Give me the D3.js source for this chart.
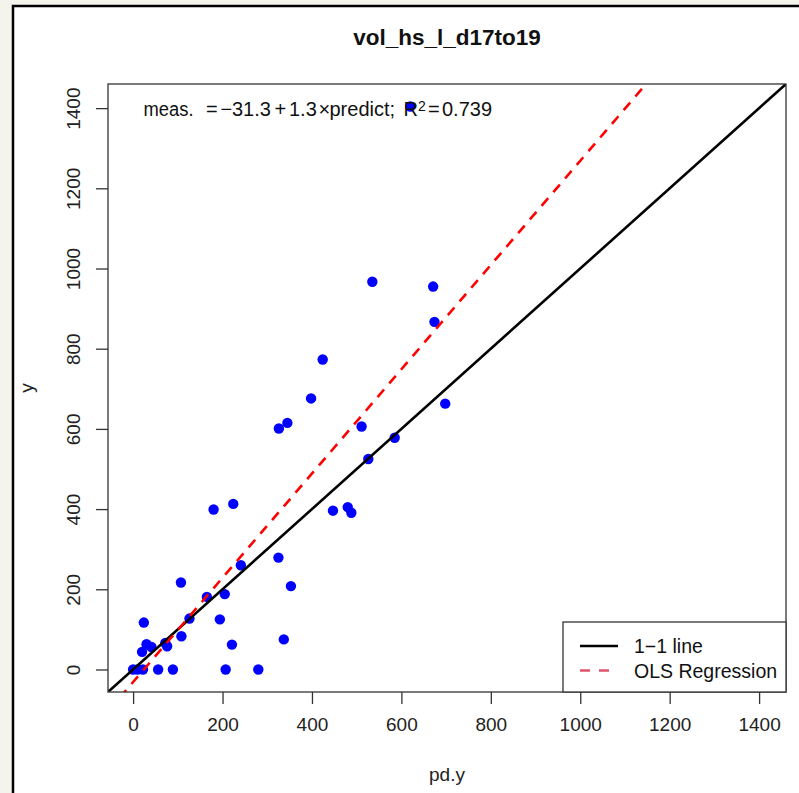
<!DOCTYPE html>
<html>
<head>
<meta charset="utf-8">
<script src="https://cdn.jsdelivr.net/npm/d3@7"></script>
<style>
  body { margin: 0; background: #f4f4ec; }
  svg { display: block; font-family: "Liberation Sans", Arial, sans-serif; }
</style>
</head>
<body>
<svg id="chart" width="799" height="793"></svg>
<script>
const predicted = [0, 10, 22, 56, 89, 207, 280, 20, 41, 30, 72, 76, 24, 108, 126, 194, 221, 337,
  107, 165, 205, 241, 325, 353, 180, 224, 447, 480, 488, 326, 345, 398, 424, 511, 526, 585,
  535, 671, 674, 698, 620];
const measured = [0, 0, 0, 0, 0, 0, 0, 44, 56, 63, 66, 58, 117, 83, 127, 125, 62, 75,
  217, 181, 188, 260, 279, 208, 399, 413, 396, 405, 391, 601, 615, 676, 773, 606, 525, 578,
  967, 955, 867, 663, 1404];
const axisTicks = [0, 200, 400, 600, 800, 1000, 1200, 1400];
const intercept = -31.3, slope = 1.3, rSquared = 0.739;
const legendLabels = ["1\u22121 line", "OLS Regression"];

const svg = d3.select("#chart");

// outer frame (window edge)
svg.append("rect").attr("x", 13).attr("y", 6).attr("width", 799).attr("height", 800)
    .attr("fill", "#fff").attr("stroke", "#000").attr("stroke-width", 2.5);

const pLeft = 108, pRight = 786, pTop = 84, pBottom = 692;

// R style limits: range extended by 4%
const lo = 0, hi = d3.max(predicted.concat(measured));
const pad = (hi - lo) * 0.04;
const x = d3.scaleLinear().domain([lo - pad, hi + pad]).range([pLeft, pRight]);
const y = d3.scaleLinear().domain([lo - pad, hi + pad]).range([pBottom, pTop]);

svg.append("clipPath").attr("id", "plotclip")
  .append("rect").attr("x", pLeft).attr("y", pTop)
  .attr("width", pRight - pLeft).attr("height", pBottom - pTop);

// points
svg.append("g").selectAll("circle")
    .data(predicted.map((p, i) => [p, measured[i]]))
    .enter().append("circle")
    .attr("cx", d => x(d[0]))
    .attr("cy", d => y(d[1]))
    .attr("r", 5.2)
    .attr("fill", "#0000ff");

const lines = svg.append("g").attr("clip-path", "url(#plotclip)");
const [d0, d1] = x.domain();

// 1-1 line
lines.append("line")
    .attr("x1", x(d0)).attr("y1", y(d0))
    .attr("x2", x(d1)).attr("y2", y(d1))
    .attr("stroke", "#000").attr("stroke-width", 2.6);

// OLS regression line
lines.append("line")
    .attr("x1", x(d0)).attr("y1", y(intercept + slope * d0))
    .attr("x2", x(d1)).attr("y2", y(intercept + slope * d1))
    .attr("stroke", "#ff0000").attr("stroke-width", 2.6)
    .attr("stroke-dasharray", "10,8");

// axes
const xAxis = svg.append("g").attr("transform", `translate(0,${pBottom})`)
    .call(d3.axisBottom(x).tickValues(axisTicks).tickFormat(d3.format("d"))
      .tickSize(12).tickPadding(14));
const yAxis = svg.append("g").attr("transform", `translate(${pLeft},0)`)
    .call(d3.axisLeft(y).tickValues(axisTicks).tickFormat(d3.format("d")).tickSize(12));

[xAxis, yAxis].forEach(g => {
  g.select(".domain").remove();
  g.selectAll(".tick line").attr("stroke", "#333").attr("stroke-width", 1.3);
  g.selectAll(".tick text").attr("font-size", 19).attr("fill", "#222")
    .attr("font-family", "Liberation Sans, Arial, sans-serif");
});
xAxis.selectAll(".tick text").attr("dy", "0.71em");
yAxis.selectAll(".tick text")
    .attr("text-anchor", "middle")
    .attr("x", 0).attr("y", 0).attr("dy", 0)
    .attr("transform", "translate(-28,0) rotate(-90)");

// plot box
svg.append("rect")
    .attr("x", pLeft).attr("y", pTop).attr("width", pRight - pLeft).attr("height", pBottom - pTop)
    .attr("fill", "none").attr("stroke", "#333").attr("stroke-width", 1.3);

// title and axis labels
svg.append("text").attr("x", (pLeft + pRight) / 2).attr("y", 45)
    .attr("text-anchor", "middle").attr("font-size", 22.5).attr("font-weight", "bold")
    .attr("fill", "#111").text("vol_hs_l_d17to19");
svg.append("text").attr("x", (pLeft + pRight) / 2).attr("y", 781)
    .attr("text-anchor", "middle").attr("font-size", 19).attr("fill", "#222").text("pd.y");
svg.append("text").attr("transform", `translate(33,${(pTop + pBottom) / 2}) rotate(-90)`)
    .attr("text-anchor", "middle").attr("font-size", 19).attr("fill", "#222").text("y");

// regression equation, laid out piece by piece like R plotmath
const eq = svg.append("text").attr("font-size", 20).attr("fill", "#111");
const eqBase = 115.5;
const pieces = [
  // text, left
  ["meas.", 143.5],
  ["=", 206],
  ["\u2212", 220.5],
  [Math.abs(intercept).toFixed(1), 232],
  ["+", 274.5],
  [slope.toFixed(1), 289],
  ["\u00d7", 318.5],
  ["predict;", 329.5],
  ["R", 403.5],
  ["=", 428],
  [rSquared.toFixed(3), 442]
];
pieces.forEach(([t, px]) => eq.append("tspan").attr("x", px).attr("y", eqBase).text(t));
eq.select("tspan").attr("textLength", 50).attr("lengthAdjust", "spacingAndGlyphs");
eq.append("tspan").attr("x", 418).attr("y", eqBase - 4.5).attr("font-size", 14).text("2");

// legend
const lg = svg.append("g");
lg.append("rect").attr("x", 563).attr("y", 622).attr("width", pRight - 563).attr("height", pBottom - 622)
    .attr("fill", "#fff").attr("stroke", "#333").attr("stroke-width", 1.3);
const legendStyles = [
  { color: "#000", dash: null },
  { color: "#df536b", dash: "10,9" }
];
legendLabels.forEach((label, i) => {
  const ly = 646 + i * 24.5;
  lg.append("line").attr("x1", 580).attr("x2", 618).attr("y1", ly).attr("y2", ly)
    .attr("stroke", legendStyles[i].color).attr("stroke-width", 2.6)
    .attr("stroke-dasharray", legendStyles[i].dash);
  lg.append("text").attr("x", 634).attr("y", ly + 7).attr("font-size", 19.5)
    .attr("fill", "#111").text(label);
});
</script>
</body>
</html>
